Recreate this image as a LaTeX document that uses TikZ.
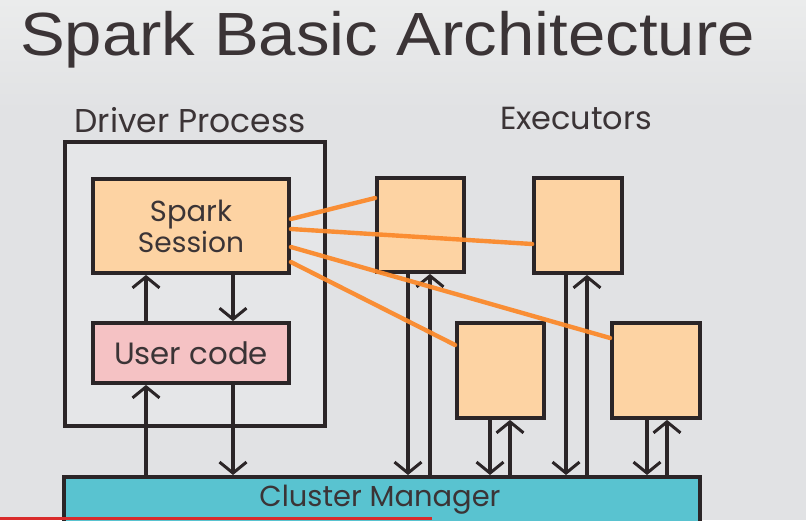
\documentclass[tikz,border=0pt]{standalone}
\usepackage{fontspec}
\usepackage{graphicx}
\setmainfont{Liberation Sans}
\newfontfamily\hand{Poppins}
\usetikzlibrary{arrows.meta,calc}
\definecolor{bgc}{HTML}{E1E2E4}
\definecolor{bgtop}{HTML}{EBECEC}
\definecolor{inkc}{HTML}{2B2527}
\definecolor{txtc}{HTML}{3B3436}
\definecolor{peach}{HTML}{FDD3A3}
\definecolor{pinkc}{HTML}{F5C2C4}
\definecolor{tealc}{HTML}{59C3D0}
\definecolor{orangec}{HTML}{FB8A2C}
\definecolor{boxgray}{HTML}{E5E6E8}
\definecolor{ytred}{HTML}{D92B2B}
\newcommand{\hw}[2]{\resizebox{#1}{!}{\hand #2}}
\tikzset{
  box/.style={draw=inkc, line width=3.8pt, inner sep=0pt, text=txtc},
  exec/.style={box, fill=peach, minimum width=87pt, minimum height=95pt},
  arr/.style={draw=inkc, line width=3.2pt, line cap=round, -{Straight Barb[length=11pt,width=27pt,line width=3pt]}},
  spark/.style={draw=orangec, line width=4.4pt, line cap=round, opacity=0.95},
  lbl/.style={text=txtc, inner sep=0pt}
}
\begin{document}
\begin{tikzpicture}[x=1pt,y=-1pt]
\useasboundingbox (0,0) rectangle (806,520);
\shade[top color=bgtop, bottom color=bgc] (0,0) rectangle (806,110);
\fill[bgc] (0,110) rectangle (806,520);
% title
\node[lbl, anchor=base west] (title) at (20,55) {\scalebox{1.1}[1]{\fontsize{61}{70}\selectfont Spark Basic Architecture}};
% section labels
\node[lbl] (dplabel) at (190,120) {\hw{231pt}{Driver Process}};
\node[lbl] (exlabel) at (576,118) {\hw{152pt}{Executors}};
% driver process
\node[box, fill=boxgray, minimum width=260pt, minimum height=284pt] (DP) at (195,284) {};
\node[box, fill=peach, minimum width=196pt, minimum height=94pt, align=center] (SS) at (191,226)
  {\hw{82pt}{Spark}\\[1pt]\hw{106pt}{Session}};
\node[box, fill=pinkc, minimum width=196pt, minimum height=60pt] (UC) at (191,353) {\hw{154pt}{User code}};
% executors
\node[exec, minimum height=94pt] (E1) at (420.5,225) {};
\node[exec, minimum width=88pt] (E2) at (578,225.5) {};
\node[exec] (E3) at (500.5,370.5) {};
\node[exec, minimum width=88pt] (E4) at (656,370.5) {};
% cluster manager
\node[box, fill=tealc, minimum width=636pt, minimum height=70pt, anchor=north] (CM) at (382,475) {};
\node[lbl] (cmlabel) at (380,500) {\hw{241pt}{Cluster Manager}};
% driver arrows
\draw[arr] (146,0 |- UC.north) -- (146,0 |- SS.south);
\draw[arr] (233,0 |- SS.south) -- (233,0 |- UC.north);
\draw[arr] (146,0 |- CM.north) -- (146,0 |- UC.south);
\draw[arr] (233,0 |- UC.south) -- (233,0 |- CM.north);
% executor arrows
\draw[arr] (408,0 |- E1.south) -- (408,0 |- CM.north);
\draw[arr] (430,0 |- CM.north) -- (430,0 |- E1.south);
\draw[arr] (566,0 |- E2.south) -- (566,0 |- CM.north);
\draw[arr] (587,0 |- CM.north) -- (587,0 |- E2.south);
\draw[arr] (490,0 |- E3.south) -- (490,0 |- CM.north);
\draw[arr] (510,0 |- CM.north) -- (510,0 |- E3.south);
\draw[arr] (647,0 |- E4.south) -- (647,0 |- CM.north);
\draw[arr] (667,0 |- CM.north) -- (667,0 |- E4.south);
% spark session to executors
\draw[spark] (SS.east |- 0,219) -- (E1.west |- 0,198);
\draw[spark] (SS.east |- 0,229) -- (E2.west |- 0,244);
\draw[spark] (SS.east |- 0,247) -- (E4.west |- 0,338);
\draw[spark] (SS.east |- 0,262) -- (E3.west |- 0,345);
% video progress bar
\fill[ytred] (0,516.5) rectangle (432,520);
\end{tikzpicture}
\end{document}
